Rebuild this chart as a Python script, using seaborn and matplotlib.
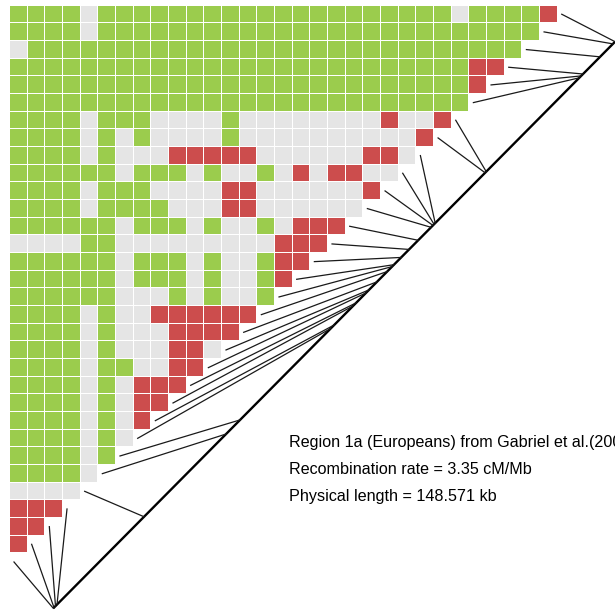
import numpy as np
import pandas as pd
import matplotlib
matplotlib.use('Agg')
import matplotlib.pyplot as plt
from matplotlib.colors import ListedColormap
import seaborn as sns

# LD category per pair, one string per heatmap row (E = weak, G = strong-ish, R = strong LD)
ld_rows = [
    "GGGGEGGGGGGGGGGGGGGGGGGGGEGGGGR",
    "GGGGEGGGGGGGGGGGGGGGGGGGGGGGGG",
    "EGGGGGGGGGGGGGGGGGGGGGGGGGGGG",
    "GGGGGGGGGGGGGGGGGGGGGGGGGGRR",
    "GGGGGGGGGGGGGGGGGGGGGGGGGGR",
    "GGGGGGGGGGGGGGGGGGGGGGGGGG",
    "GGGGEGGGEEEEGEEEEEEEEREER",
    "GGGGEGEGEEEEGEEEEEEEEEER",
    "GGGGEGEEERRRRREEEEEERRE",
    "GGGGGGEGGGEGEEGERERREE",
    "GGGGEGGGEEEERREEEEEER",
    "GGGGEGGGGEEERREEEEEE",
    "GGGGGGEGGGEGEEGERRR",
    "EEEEGGEEEEEEEEERRR",
    "GGGGGGEGGGEGEEGRR",
    "GGGGGGEGGGEGEEGR",
    "GGGGGGEEEGEGEEG",
    "GGGGEGEERRRRRR",
    "GGGGEGEEERRRR",
    "GGGGEGEEERRE",
    "GGGGEGGEERR",
    "GGGGEGERRR",
    "GGGGEGERR",
    "GGGGEGER",
    "GGGGEGE",
    "GGGGEG",
    "GGGGE",
    "EEEE",
    "RRR",
    "RR",
    "R",
]

# physical SNP positions along the region (kb)
snp_pos_kb = [0.0, 0.19, 0.58, 0.98, 24.0, 45.7, 49.4, 73.4, 74.3, 79.3,
              80.1, 82.7, 83.5, 85.6, 88.3, 89.6, 90.1, 92.0, 94.1, 96.5,
              99.9, 100.4, 100.7, 101.0, 114.2, 114.5, 139.1, 139.6, 140.1,
              144.6, 148.0, 148.571]
phys_length_kb = 148.571

info_lines = [
    "Region 1a (Europeans) from Gabriel et al.(2002)",
    "Recombination rate = 3.35 cM/Mb",
    "Physical length = 148.571 kb",
]

code = {"E": 0, "G": 1, "R": 2}
n = len(ld_rows)
mat = np.full((n, n), np.nan)
for i, row in enumerate(ld_rows):
    for j, ch in enumerate(row):
        mat[i, j] = code[ch]
df = pd.DataFrame(mat)

fig = plt.figure(figsize=(6.15, 6.12), dpi=100)
ax = fig.add_axes([0, 0, 1, 1])

cmap = ListedColormap(["#E5E5E5", "#9BCC4D", "#CC4D4D"])
sns.heatmap(df, mask=df.isna(), cmap=cmap, vmin=-0.5, vmax=2.5, cbar=False,
            linewidths=0.5, linecolor='white', xticklabels=False,
            yticklabels=False, ax=ax)

# frame so that one cell ~ 17.67 px
ax.set_xlim(-0.509, 34.296)
ax.set_ylim(34.37, -0.266)
ax.axis('off')

# genetic map segment (45 degree line)
p0 = np.array([2.507, 34.16])
p1 = np.array([34.30, 2.094])
ax.plot([p0[0], p1[0]], [p0[1], p1[1]], color='black', lw=1.7,
        solid_capstyle='butt')

# connectors from heatmap diagonal to map positions
for k, pos in enumerate(snp_pos_kb):
    start = np.array([k + 0.283, 31.54 - k])
    end = p0 + (pos / phys_length_kb) * (p1 - p0)
    ax.plot([start[0], end[0]], [start[1], end[1]], color='#1a1a1a', lw=0.9)

plt.rcParams['font.family'] = ['Liberation Sans', 'DejaVu Sans']
base_y = [447.5, 474.5, 500.7]
for txt, yy in zip(info_lines, base_y):
    fig.text(289.3 / 615, 1 - yy / 612, txt, fontsize=11.6, va='baseline',
             ha='left', family=['Liberation Sans', 'DejaVu Sans'])

fig.savefig('out.png', dpi=100)
